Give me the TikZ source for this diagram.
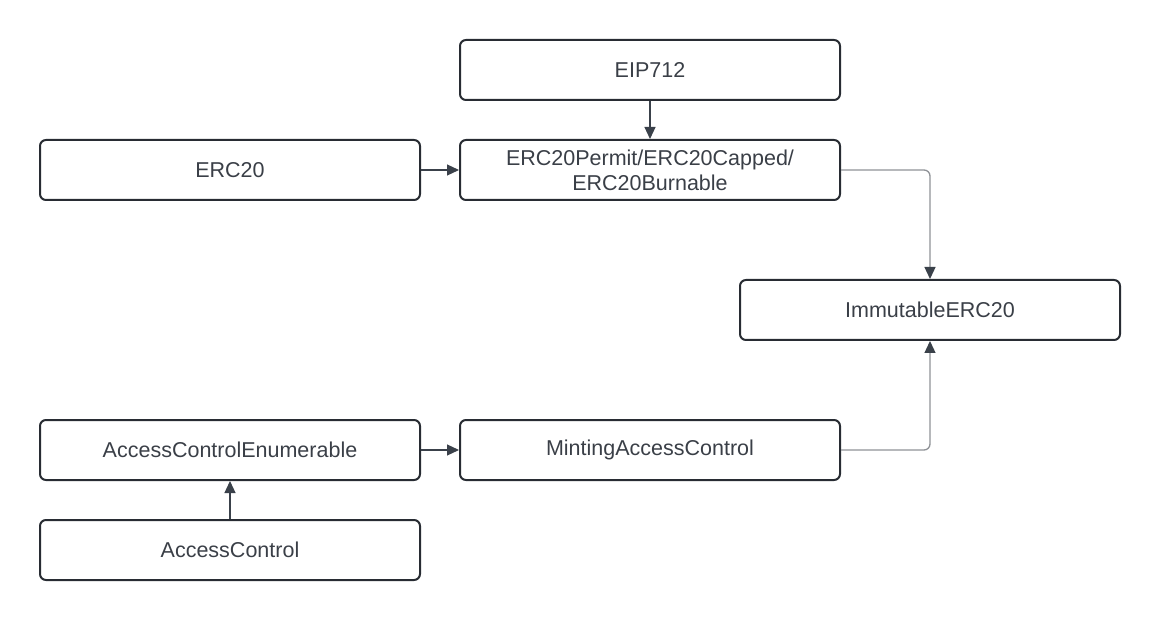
\documentclass[tikz,border=0pt]{standalone}
\usepackage{fontspec}
\setmainfont{Liberation Sans}
\usetikzlibrary{positioning, arrows.meta}

\definecolor{boxline}{HTML}{282C33}
\definecolor{txt}{HTML}{3A3F47}
\definecolor{dark}{HTML}{3A414A}
\definecolor{grey}{HTML}{8F9297}

\begin{document}
\begin{tikzpicture}[x=1pt,y=-1pt,semithick,
  >={Triangle[length=12pt,width=11pt,color=dark]},
  contract/.style={draw=boxline, line width=2pt, rounded corners=6pt, rectangle,
    minimum width=380pt, minimum height=60pt, align=center, text=txt,
    font=\fontsize{21.5}{25}\selectfont},
  link/.style={->, draw=dark, line width=1.2pt},
  elbow/.style={->, draw=grey, line width=1.3pt, rounded corners=6pt},
]
  \useasboundingbox (0,0) rectangle (1160,620);

  \node[contract] (eip)    at (650,70)  {EIP712};
  \node[contract] (erc)    at (230,170) {ERC20};
  \node[contract] (ext)    at (650,170) {ERC20Permit/ERC20Capped/\\ERC20Burnable};
  \node[contract] (immut)  at (930,310) {ImmutableERC20};
  \node[contract] (acenum) at (230,450) {AccessControlEnumerable};
  \node[contract] (mint)   at (650,450) {MintingAccessControl};
  \node[contract] (ac)     at (230,550) {AccessControl};

  \path[link]
    (eip) edge (ext)
    (erc) edge (ext)
    (acenum) edge (mint)
    (ac) edge (acenum);
  \draw[elbow] (ext.east) -| (immut.north);
  \draw[elbow] (mint.east) -| (immut.south);

\end{tikzpicture}
\end{document}
